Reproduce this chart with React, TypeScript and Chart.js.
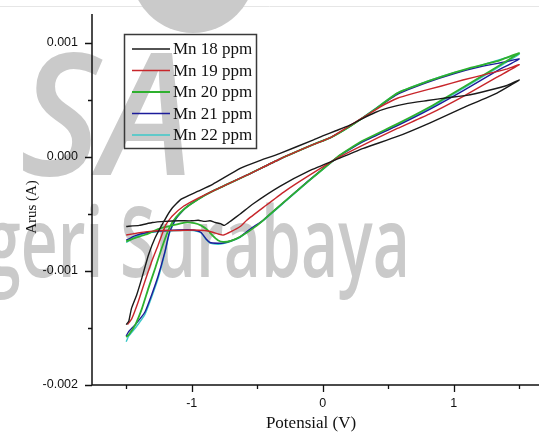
import { useEffect, useRef } from "react";
import { Chart, registerables } from "chart.js";

Chart.register(...registerables);

// ---------- data (potential in V, current in mA; converted to A below) ----------
const SERIES_LABELS = ["Mn 18 ppm", "Mn 19 ppm", "Mn 20 ppm", "Mn 21 ppm", "Mn 22 ppm"];
const SERIES_COLORS = ["#1a1a1a", "#c8262b", "#2eb02e", "#1c1c9a", "#3cc8c8"];

const X_TICKS = [-1.5, -1, -0.5, 0, 0.5, 1, 1.5];
const X_TICK_LABELS = ["", "-1", "", "0", "", "1", ""];
const Y_TICKS = [-0.002, -0.0015, -0.001, -0.0005, 0, 0.0005, 0.001];
const Y_TICK_LABELS = ["-0.002", "", "-0.001", "", "0.000", "", "0.001"];

const MN18_V = [
  -1.5, -1.4, -1.3, -1.2, -1.1, -1.0, -0.95, -0.9, -0.86, -0.82, -0.78, -0.75, -0.7, -0.63, -0.53, -0.33, -0.1, 0.13, 0.31, 0.57, 0.82, 1.07, 1.33, 1.5,
  1.4, 1.27, 1.1, 0.95, 0.8, 0.65, 0.5, 0.4, 0.3, 0.2, 0.1, 0, -0.07, -0.33, -0.5, -0.63, -0.84, -0.95, -1.08, -1.15, -1.2, -1.28, -1.33, -1.38, -1.42, -1.46, -1.48, -1.5,
];
const MN18_mA = [
  -0.61, -0.6, -0.575, -0.565, -0.56, -0.56, -0.555, -0.565, -0.56, -0.575, -0.585, -0.6, -0.56, -0.5, -0.41, -0.26, -0.12, -0.01, 0.076, 0.18, 0.3, 0.43, 0.56, 0.675,
  0.625, 0.585, 0.54, 0.52, 0.495, 0.47, 0.43, 0.39, 0.335, 0.275, 0.23, 0.185, 0.15, 0.03, -0.04, -0.1, -0.24, -0.3, -0.37, -0.45, -0.54, -0.71, -0.86, -1.06, -1.21, -1.33, -1.44, -1.47,
];

const MN19_V = [
  -1.5, -1.4, -1.3, -1.2, -1.1, -0.99, -0.9, -0.84, -0.8, -0.76, -0.7, -0.63, -0.58, -0.45, -0.3, -0.1, 0.13, 0.3, 0.57, 0.82, 1.07, 1.33, 1.5,
  1.4, 1.28, 1.07, 0.9, 0.7, 0.57, 0.44, 0.3, 0.2, 0.06, -0.07, -0.33, -0.58, -0.84, -0.95, -1.06, -1.15, -1.2, -1.255, -1.306, -1.357, -1.408, -1.458, -1.49,
];
const MN19_mA = [
  -0.684, -0.665, -0.65, -0.645, -0.645, -0.64, -0.645, -0.66, -0.675, -0.685, -0.655, -0.61, -0.555, -0.44, -0.31, -0.16, 0.0, 0.1, 0.25, 0.38, 0.53, 0.7, 0.81,
  0.77, 0.735, 0.675, 0.62, 0.56, 0.515, 0.44, 0.34, 0.27, 0.17, 0.11, -0.02, -0.16, -0.3, -0.36, -0.43, -0.52, -0.6, -0.77, -0.92, -1.09, -1.27, -1.42, -1.47,
];

const MN20_V = [
  -1.5, -1.43, -1.35, -1.25, -1.15, -1.05, -0.98, -0.93, -0.88, -0.84, -0.8, -0.76, -0.7, -0.63, -0.5, -0.4, -0.25, -0.07, 0.13, 0.3, 0.57, 0.82, 1.07, 1.33, 1.5,
  1.4, 1.33, 1.12, 0.95, 0.77, 0.57, 0.39, 0.21, 0.06, -0.07, -0.33, -0.58, -0.84, -0.95, -1.05, -1.12, -1.17, -1.229, -1.28, -1.33, -1.38, -1.43, -1.48, -1.5,
];
const MN20_mA = [
  -0.74, -0.71, -0.68, -0.63, -0.6, -0.575, -0.58, -0.6, -0.64, -0.69, -0.73, -0.745, -0.735, -0.7, -0.6, -0.5, -0.35, -0.175, 0.015, 0.14, 0.29, 0.44, 0.61, 0.79, 0.91,
  0.87, 0.84, 0.78, 0.72, 0.65, 0.56, 0.41, 0.27, 0.17, 0.11, -0.02, -0.16, -0.3, -0.37, -0.45, -0.53, -0.62, -0.8, -0.98, -1.15, -1.33, -1.47, -1.56, -1.58,
];

const MN21_V = [
  -1.5, -1.43, -1.35, -1.25, -1.1, -0.99, -0.93, -0.89, -0.86, -0.8, -0.76, -0.7, -0.63, -0.55, -0.45, -0.3, -0.1, 0.13, 0.3, 0.57, 0.82, 1.07, 1.33, 1.5,
  1.4, 1.2, 1.0, 0.8, 0.57, 0.39, 0.21, 0.06, -0.07, -0.33, -0.58, -0.84, -0.95, -1.05, -1.12, -1.17, -1.204, -1.255, -1.306, -1.357, -1.43, -1.48, -1.5,
];
const MN21_mA = [
  -0.73, -0.69, -0.665, -0.65, -0.64, -0.64, -0.66, -0.72, -0.75, -0.757, -0.755, -0.735, -0.7, -0.63, -0.55, -0.4, -0.2, 0.015, 0.13, 0.275, 0.42, 0.58, 0.755, 0.86,
  0.835, 0.79, 0.73, 0.655, 0.55, 0.41, 0.27, 0.17, 0.11, -0.02, -0.16, -0.3, -0.37, -0.45, -0.54, -0.66, -0.83, -1.04, -1.21, -1.36, -1.47, -1.53, -1.57,
];

const MN22_V = [
  -1.5, -1.43, -1.35, -1.25, -1.1, -0.99, -0.93, -0.89, -0.86, -0.8, -0.76, -0.7, -0.63, -0.55, -0.45, -0.3, -0.1, 0.13, 0.3, 0.57, 0.82, 1.07, 1.33, 1.5,
  1.4, 1.2, 1.0, 0.8, 0.57, 0.39, 0.21, 0.06, -0.07, -0.33, -0.58, -0.84, -0.95, -1.05, -1.12, -1.17, -1.204, -1.255, -1.306, -1.357, -1.43, -1.48, -1.5,
];
const MN22_mA = [
  -0.75, -0.7, -0.67, -0.655, -0.645, -0.645, -0.665, -0.725, -0.755, -0.765, -0.76, -0.74, -0.705, -0.635, -0.555, -0.405, -0.205, 0.01, 0.13, 0.28, 0.43, 0.6, 0.78, 0.9,
  0.87, 0.8, 0.74, 0.665, 0.56, 0.415, 0.27, 0.17, 0.11, -0.02, -0.16, -0.3, -0.37, -0.45, -0.54, -0.67, -0.84, -1.06, -1.23, -1.38, -1.5, -1.57, -1.62,
];

const SERIES_V = [MN18_V, MN19_V, MN20_V, MN21_V, MN22_V];
const SERIES_mA = [MN18_mA, MN19_mA, MN20_mA, MN21_mA, MN22_mA];

const X_MIN = -1.761;
const X_MAX = 1.651;
const Y_MIN = -0.002;
const Y_MAX = 0.001254;

const SERIF = '"Liberation Serif", "Times New Roman", serif';
const SANS = '"Liberation Sans", Arial, sans-serif';
const WM = "#cacaca";

const decorPlugin = {
  id: "decor",
  beforeDraw(chart: any) {
    const ctx = chart.ctx as CanvasRenderingContext2D;
    ctx.save();
    ctx.fillStyle = "#ffffff";
    ctx.fillRect(0, 0, chart.width, chart.height);
    // faint page rule
    ctx.strokeStyle = "#e6e6e6";
    ctx.lineWidth = 1;
    ctx.beginPath();
    ctx.moveTo(0, 6.5);
    ctx.lineTo(chart.width, 6.5);
    ctx.stroke();
    // watermark
    ctx.fillStyle = WM;
    ctx.beginPath();
    ctx.arc(193, -29, 62, 0, Math.PI * 2);
    ctx.fill();
    ctx.font = `italic 600 170px "Open Sans"`;
    const saW = ctx.measureText("SA").width;
    ctx.save();
    ctx.translate(20, 175);
    ctx.scale(173 / saW, 1);
    ctx.textAlign = "left";
    ctx.textBaseline = "alphabetic";
    ctx.fillText("SA", 0, 0);
    ctx.restore();
    ctx.font = `600 98px "Open Sans"`;
    const sw = ctx.measureText("Surabaya").width;
    const s2 = 290 / sw;
    const pre = ctx.measureText("Negeri ").width;
    ctx.save();
    ctx.translate(120 - pre * s2, 277);
    ctx.scale(s2, 1);
    ctx.textAlign = "left";
    ctx.textBaseline = "alphabetic";
    ctx.fillText("Negeri Surabaya", 0, 0);
    ctx.restore();
    ctx.restore();
  },
  afterDraw(chart: any) {
    const ctx = chart.ctx as CanvasRenderingContext2D;
    const { left, right, top, bottom } = chart.chartArea;
    const xs = chart.scales.x;
    const ys = chart.scales.y;
    ctx.save();
    ctx.strokeStyle = "#111";
    ctx.lineWidth = 1.5;
    ctx.beginPath();
    ctx.moveTo(left, top);
    ctx.lineTo(left, bottom);
    ctx.lineTo(right, bottom);
    ctx.stroke();
    ctx.lineWidth = 1.3;
    ctx.beginPath();
    X_TICKS.forEach((v, i) => {
      const px = Math.round(xs.getPixelForValue(v)) + 0.5;
      const major = X_TICK_LABELS[i] !== "";
      ctx.moveTo(px, bottom);
      ctx.lineTo(px, bottom + (major ? 7 : 4));
    });
    Y_TICKS.forEach((v, i) => {
      const py = Math.round(ys.getPixelForValue(v)) + 0.5;
      const major = Y_TICK_LABELS[i] !== "";
      ctx.moveTo(left, py);
      ctx.lineTo(left - (major ? 7 : 4), py);
    });
    ctx.stroke();

    // tick labels
    ctx.fillStyle = "#111";
    ctx.font = `12.5px ${SANS}`;
    ctx.textBaseline = "middle";
    ctx.textAlign = "center";
    X_TICKS.forEach((v, i) => {
      if (!X_TICK_LABELS[i]) return;
      ctx.fillText(X_TICK_LABELS[i], xs.getPixelForValue(v), 404);
    });
    ctx.textAlign = "right";
    Y_TICKS.forEach((v, i) => {
      if (!Y_TICK_LABELS[i]) return;
      ctx.fillText(Y_TICK_LABELS[i], 78, ys.getPixelForValue(v));
    });

    // axis titles
    ctx.font = `17px ${SERIF}`;
    ctx.textAlign = "center";
    ctx.textBaseline = "middle";
    ctx.fillText("Potensial (V)", 311, 424);
    ctx.save();
    ctx.translate(32, 207);
    ctx.rotate(-Math.PI / 2);
    ctx.font = `15px ${SERIF}`;
    ctx.fillText("Arus (A)", 0, 0);
    ctx.restore();

    // legend
    ctx.strokeStyle = "#3a3a3a";
    ctx.lineWidth = 1.5;
    ctx.strokeRect(124.5, 34.5, 132, 114);
    ctx.textAlign = "left";
    ctx.font = `17px ${SERIF}`;
    SERIES_LABELS.forEach((lab, i) => {
      const y = 49 + i * 21.5;
      ctx.strokeStyle = SERIES_COLORS[i];
      ctx.lineWidth = i === 2 ? 2.2 : 1.6;
      ctx.beginPath();
      ctx.moveTo(132, y);
      ctx.lineTo(170, y);
      ctx.stroke();
      ctx.fillStyle = "#111";
      ctx.fillText(lab, 173, y + 1);
    });
    ctx.restore();
  },
};

export default function App() {
  const ref = useRef<HTMLCanvasElement | null>(null);
  useEffect(() => {
    if (!ref.current) return;
    const datasets = SERIES_LABELS.map((label, i) => ({
      label,
      data: SERIES_V[i].map((v, j) => ({ x: v, y: SERIES_mA[i][j] / 1000 })),
      borderColor: SERIES_COLORS[i],
      backgroundColor: SERIES_COLORS[i],
      borderWidth: i === 2 ? 1.8 : 1.4,
      showLine: true,
      pointRadius: 0,
      tension: 0.15,
      fill: false,
    }));
    const chart = new Chart(ref.current, {
      type: "scatter",
      data: { datasets },
      options: {
        responsive: false,
        animation: false,
        devicePixelRatio: 1,
        layout: { padding: { top: 14, right: 0, left: 0, bottom: 0 } },
        plugins: { legend: { display: false }, tooltip: { enabled: false } },
        scales: {
          x: {
            type: "linear",
            min: X_MIN,
            max: X_MAX,
            afterBuildTicks: (s: any) => {
              s.ticks = X_TICKS.map((v) => ({ value: v }));
            },
            afterFit: (s: any) => {
              s.height = 47;
            },
            grid: { display: false },
            border: { display: false },
            ticks: { display: false },
          },
          y: {
            type: "linear",
            min: Y_MIN,
            max: Y_MAX,
            afterBuildTicks: (s: any) => {
              s.ticks = Y_TICKS.map((v) => ({ value: v }));
            },
            afterFit: (s: any) => {
              s.width = 92;
            },
            grid: { display: false },
            border: { display: false },
            ticks: { display: false },
          },
        },
      },
      plugins: [decorPlugin],
    } as any);
    return () => chart.destroy();
  }, []);
  return (
    <div style={{ position: "absolute", left: 0, top: 0, width: 539, height: 432 }}>
      <canvas ref={ref} width={539} height={432} style={{ width: 539, height: 432, display: "block" }} />
    </div>
  );
}
